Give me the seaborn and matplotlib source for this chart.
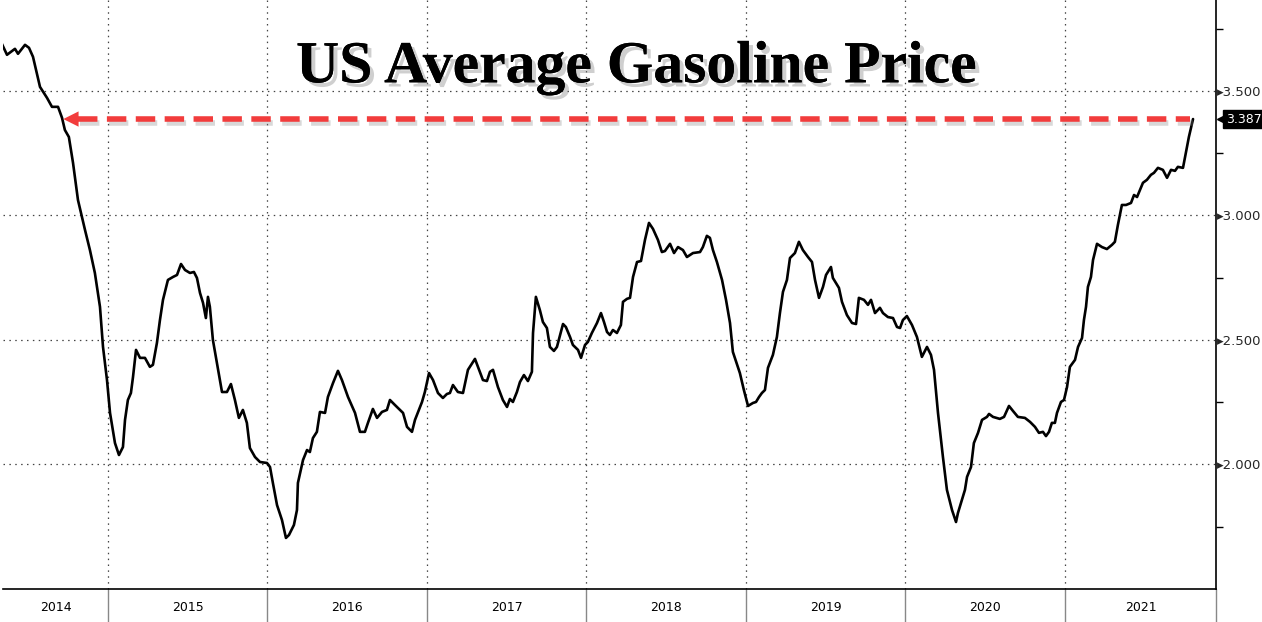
import numpy as np
import pandas as pd
import seaborn as sns
import matplotlib.pyplot as plt
import matplotlib.patheffects as pe
import matplotlib.transforms as mtransforms

# weekly-ish readings of the US average gasoline price (USD / gallon)
year_frac = [
    2014.335, 2014.367, 2014.417, 2014.436, 2014.480, 2014.505, 2014.530, 2014.574, 2014.618, 2014.649,
    2014.687, 2014.712, 2014.730, 2014.755, 2014.781, 2014.812, 2014.856, 2014.887, 2014.918, 2014.950,
    2014.969, 2014.994, 2015.013, 2015.044, 2015.069, 2015.094, 2015.107, 2015.125, 2015.144, 2015.157,
    2015.176, 2015.201, 2015.232, 2015.263, 2015.282, 2015.307, 2015.326, 2015.345, 2015.376, 2015.408,
    2015.433, 2015.458, 2015.483, 2015.514, 2015.539, 2015.558, 2015.577, 2015.596, 2015.614, 2015.627,
    2015.639, 2015.658, 2015.683, 2015.715, 2015.746, 2015.771, 2015.796, 2015.821, 2015.846, 2015.871,
    2015.890, 2015.922, 2015.953, 2015.997, 2016.016, 2016.034, 2016.060, 2016.091, 2016.116, 2016.135,
    2016.166, 2016.185, 2016.191, 2016.223, 2016.248, 2016.266, 2016.285, 2016.310, 2016.329, 2016.361,
    2016.379, 2016.411, 2016.442, 2016.467, 2016.505, 2016.549, 2016.580, 2016.611, 2016.630, 2016.661,
    2016.687, 2016.718, 2016.749, 2016.768, 2016.799, 2016.831, 2016.850, 2016.875, 2016.906, 2016.925,
    2016.969, 2016.987, 2017.013, 2017.038, 2017.069, 2017.100, 2017.125, 2017.144, 2017.163, 2017.194,
    2017.226, 2017.257, 2017.301, 2017.320, 2017.351, 2017.376, 2017.395, 2017.414, 2017.445, 2017.476,
    2017.502, 2017.520, 2017.539, 2017.564, 2017.583, 2017.608, 2017.633, 2017.658, 2017.665, 2017.683,
    2017.708, 2017.727, 2017.752, 2017.771, 2017.796, 2017.815, 2017.840, 2017.853, 2017.871, 2017.897,
    2017.915, 2017.947, 2017.966, 2017.991, 2018.009, 2018.034, 2018.066, 2018.091, 2018.110, 2018.129,
    2018.147, 2018.166, 2018.191, 2018.216, 2018.229, 2018.254, 2018.273, 2018.292, 2018.317, 2018.342,
    2018.367, 2018.392, 2018.417, 2018.448, 2018.473, 2018.492, 2018.524, 2018.549, 2018.574, 2018.605,
    2018.630, 2018.668, 2018.712, 2018.730, 2018.755, 2018.774, 2018.793, 2018.818, 2018.850, 2018.875,
    2018.900, 2018.918, 2018.962, 2018.987, 2019.013, 2019.044, 2019.063, 2019.082, 2019.100, 2019.119,
    2019.138, 2019.169, 2019.194, 2019.213, 2019.232, 2019.257, 2019.276, 2019.307, 2019.332, 2019.357,
    2019.389, 2019.414, 2019.433, 2019.458, 2019.483, 2019.502, 2019.533, 2019.545, 2019.583, 2019.602,
    2019.633, 2019.665, 2019.690, 2019.708, 2019.740, 2019.765, 2019.784, 2019.809, 2019.840, 2019.859,
    2019.890, 2019.922, 2019.947, 2019.966, 2019.984, 2020.009, 2020.041, 2020.072, 2020.103, 2020.135,
    2020.160, 2020.179, 2020.204, 2020.235, 2020.260, 2020.292, 2020.317, 2020.329, 2020.354, 2020.373,
    2020.386, 2020.411, 2020.429, 2020.455, 2020.480, 2020.511, 2020.524, 2020.549, 2020.592, 2020.618,
    2020.649, 2020.674, 2020.705, 2020.749, 2020.781, 2020.812, 2020.837, 2020.862, 2020.881, 2020.900,
    2020.918, 2020.937, 2020.950, 2020.975, 2020.994, 2021.013, 2021.031, 2021.063, 2021.082, 2021.107,
    2021.119, 2021.132, 2021.144, 2021.163, 2021.176, 2021.201, 2021.232, 2021.263, 2021.295, 2021.313,
    2021.332, 2021.357, 2021.383, 2021.414, 2021.433, 2021.452, 2021.489, 2021.514, 2021.539, 2021.558,
    2021.583, 2021.614, 2021.640, 2021.665, 2021.690, 2021.708, 2021.740, 2021.752, 2021.765, 2021.777,
    2021.803,
]
price = [
    3.689, 3.645, 3.669, 3.649, 3.685, 3.673, 3.637, 3.516, 3.472, 3.436,
    3.436, 3.392, 3.343, 3.315, 3.211, 3.062, 2.942, 2.861, 2.769, 2.633,
    2.472, 2.339, 2.207, 2.086, 2.038, 2.070, 2.179, 2.259, 2.287, 2.351,
    2.460, 2.428, 2.428, 2.392, 2.400, 2.488, 2.580, 2.661, 2.741, 2.753,
    2.761, 2.805, 2.781, 2.769, 2.773, 2.749, 2.689, 2.649, 2.588, 2.673,
    2.633, 2.500, 2.408, 2.291, 2.291, 2.323, 2.259, 2.187, 2.219, 2.167,
    2.066, 2.030, 2.010, 2.006, 1.990, 1.926, 1.837, 1.777, 1.705, 1.717,
    1.757, 1.817, 1.926, 2.018, 2.058, 2.050, 2.106, 2.131, 2.211, 2.207,
    2.271, 2.327, 2.376, 2.339, 2.271, 2.207, 2.131, 2.131, 2.167, 2.223,
    2.187, 2.211, 2.219, 2.259, 2.239, 2.219, 2.207, 2.151, 2.131, 2.179,
    2.251, 2.291, 2.367, 2.339, 2.287, 2.267, 2.283, 2.287, 2.319, 2.291,
    2.287, 2.380, 2.424, 2.392, 2.339, 2.335, 2.372, 2.380, 2.311, 2.259,
    2.231, 2.263, 2.251, 2.291, 2.331, 2.359, 2.335, 2.372, 2.528, 2.673,
    2.620, 2.572, 2.548, 2.472, 2.456, 2.472, 2.532, 2.564, 2.552, 2.512,
    2.480, 2.460, 2.428, 2.480, 2.492, 2.528, 2.568, 2.608, 2.572, 2.532,
    2.520, 2.540, 2.528, 2.560, 2.653, 2.665, 2.669, 2.753, 2.813, 2.817,
    2.902, 2.970, 2.946, 2.902, 2.853, 2.857, 2.886, 2.849, 2.873, 2.861,
    2.833, 2.849, 2.853, 2.873, 2.918, 2.910, 2.861, 2.813, 2.741, 2.661,
    2.568, 2.452, 2.367, 2.299, 2.235, 2.247, 2.251, 2.271, 2.287, 2.299,
    2.388, 2.440, 2.512, 2.608, 2.693, 2.741, 2.829, 2.849, 2.894, 2.861,
    2.833, 2.813, 2.741, 2.669, 2.713, 2.761, 2.793, 2.749, 2.709, 2.653,
    2.600, 2.568, 2.564, 2.669, 2.661, 2.641, 2.661, 2.608, 2.629, 2.608,
    2.592, 2.588, 2.552, 2.548, 2.580, 2.596, 2.560, 2.512, 2.432, 2.472,
    2.440, 2.380, 2.207, 2.030, 1.898, 1.817, 1.769, 1.805, 1.857, 1.898,
    1.950, 1.990, 2.086, 2.127, 2.179, 2.191, 2.203, 2.191, 2.183, 2.191,
    2.235, 2.215, 2.191, 2.187, 2.171, 2.151, 2.127, 2.131, 2.114, 2.131,
    2.167, 2.167, 2.207, 2.251, 2.259, 2.311, 2.392, 2.420, 2.472, 2.508,
    2.580, 2.633, 2.713, 2.753, 2.821, 2.886, 2.873, 2.865, 2.882, 2.894,
    2.962, 3.042, 3.042, 3.050, 3.082, 3.074, 3.131, 3.143, 3.163, 3.171,
    3.191, 3.183, 3.151, 3.183, 3.179, 3.195, 3.191, 3.231, 3.275, 3.315,
    3.387,
]
years = [2014, 2015, 2016, 2017, 2018, 2019, 2020, 2021]
y_major = [2.0, 2.5, 3.0, 3.5]
y_minor = [1.75, 2.25, 2.75, 3.25, 3.75]
arrow_tip_year = 2014.72   # where the price last stood at today's level
title = 'US Average Gasoline Price'

df = pd.DataFrame({'t': year_frac, 'price': price})

sns.set_style('white')
fig = plt.figure(figsize=(12.62, 6.22), dpi=100)
ax = fig.add_axes([3 / 1262, 33 / 622, 1213 / 1262, 589 / 622])

sns.lineplot(data=df, x='t', y='price', color='black', lw=1.9, ax=ax)

x0, x1 = 2014.342, 2021.947
ax.set_xlim(x0, x1)
ax.set_ylim(1.5, 3.865)

# grid
for y in y_major:
    ax.axhline(y, color='#444444', lw=0.9, ls=(0, (1.2, 3.5)), zorder=0)
for yr in years[1:]:
    ax.axvline(yr, color='#444444', lw=0.9, ls=(0, (1.2, 3.5)), zorder=0)

# spines
for s in ['top', 'left']:
    ax.spines[s].set_visible(False)
ax.spines['bottom'].set_color('black')
ax.spines['bottom'].set_linewidth(1.2)
ax.spines['right'].set_color('black')
ax.spines['right'].set_linewidth(1.2)

# x axis: quarter ticks, year separators and centred year labels
quarters = [q for yr in years for q in (yr + 0.25, yr + 0.5, yr + 0.75)]
quarters = [q for q in quarters if x0 < q < x1]
ax.set_xticks(quarters)
ax.set_xticklabels([])
ax.tick_params(axis='x', direction='out', length=4, width=1, color='black')
ax.set_xlabel('')
trans = ax.get_xaxis_transform()
for yr in years[1:]:
    ax.plot([yr, yr], [0, -0.06], color='#888888', lw=1, transform=trans, clip_on=False)
ax.plot([x1, x1], [0, -0.06], color='#888888', lw=1, transform=trans, clip_on=False)
for yr in years:
    lo, hi = max(yr, x0), min(yr + 1, x1)
    ax.text((lo + hi) / 2, -0.032, str(yr), transform=trans, ha='center', va='center',
            fontsize=9, color='black')

# y axis on the right
ax.yaxis.tick_right()
ax.set_yticks(y_major)
ax.set_yticklabels(['\u25b8' + f'{v:.3f}' for v in y_major], fontsize=9.5)
ax.set_yticks(y_minor, minor=True)
ax.tick_params(axis='y', which='major', length=0, pad=1)
ax.tick_params(axis='y', which='minor', length=5, width=1, color='black', direction='out')
ax.set_ylabel('')

# last value tag
last = price[-1]
ytrans = ax.get_yaxis_transform()
tag_shift = mtransforms.ScaledTranslation(6 / 100, 0, fig.dpi_scale_trans)
ax.plot([1], [last], marker='<', ms=7, color='black', transform=ytrans + tag_shift,
        clip_on=False)
ax.annotate(f'{last:.3f}', xy=(1, last), xycoords=('axes fraction', 'data'),
            xytext=(7, 0), textcoords='offset points', ha='left', va='center',
            fontsize=9, color='white', annotation_clip=False,
            bbox=dict(boxstyle='square,pad=0.22', fc='black', ec='black'))

# red dashed arrow back to the same level
red = '#f23c3c'
ax.plot([arrow_tip_year + 0.09, year_frac[-1] - 0.02], [last, last], color=red, lw=4,
        ls=(0, (3.5, 1.7)), solid_capstyle='butt', dash_capstyle='butt',
        path_effects=[pe.SimpleLineShadow(offset=(2, -3), shadow_color='gray', alpha=0.3),
                      pe.Normal()])
ax.annotate('', xy=(arrow_tip_year, last), xytext=(arrow_tip_year + 0.12, last),
            arrowprops=dict(arrowstyle='-|>,head_length=1.1,head_width=0.55', color=red,
                            lw=0, shrinkA=0, shrinkB=0))

# title with drop shadow
ax.text(0.522, 0.884, title, transform=ax.transAxes, ha='center', va='center',
        fontsize=43, fontweight='bold', family='Liberation Serif', color='black',
        path_effects=[pe.withSimplePatchShadow(offset=(3, -3), shadow_rgbFace='#888888', alpha=0.4),
                      pe.Normal()])

fig.savefig('out.png', dpi=100)
